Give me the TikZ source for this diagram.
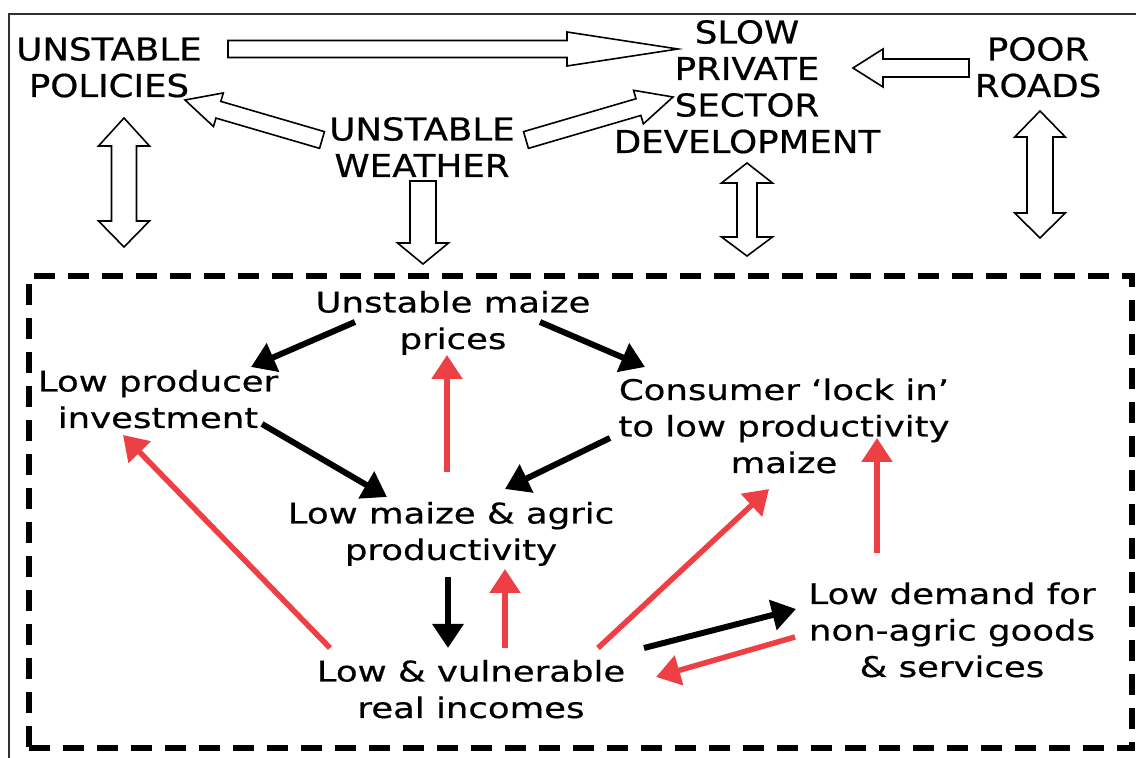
\documentclass[tikz,border=0pt]{standalone}
\usepackage{fontspec}
\usetikzlibrary{arrows.meta,calc,positioning}
\newfontfamily\topfont[FakeStretch=1.13,FakeBold=0.6]{DejaVu Sans}
\newfontfamily\loopfont[FakeStretch=1.25,FakeBold=0.6]{DejaVu Sans}
\definecolor{loopred}{RGB}{238,64,68}
\definecolor{framegray}{RGB}{50,50,50}
% open block arrow: from, to, half shaft, half head, head length
\newcommand\fatarrow[5]{%
  \coordinate (fas) at #1; \coordinate (fae) at #2;
  \coordinate (fab) at ($(fae)!#5!(fas)$);
  \draw[blockarrow] ($(fas)!#3!90:(fae)$) -- ($(fab)!#3!-90:(fas)$) -- ($(fab)!#4!-90:(fas)$)
    -- (fae) -- ($(fab)!#4!90:(fas)$) -- ($(fab)!#3!90:(fas)$) -- ($(fas)!#3!-90:(fae)$) -- cycle;}
% open double block arrow: end a, end b, half shaft, half head, head length a, head length b
\newcommand\fatdarrow[6]{%
  \coordinate (fda) at #1; \coordinate (fdb) at #2;
  \coordinate (fdha) at ($(fda)!#5!(fdb)$); \coordinate (fdhb) at ($(fdb)!#6!(fda)$);
  \draw[blockarrow] (fda) -- ($(fdha)!#4!90:(fdb)$) -- ($(fdha)!#3!90:(fdb)$) -- ($(fdhb)!#3!-90:(fda)$)
    -- ($(fdhb)!#4!-90:(fda)$) -- (fdb) -- ($(fdhb)!#4!90:(fda)$) -- ($(fdhb)!#3!90:(fda)$)
    -- ($(fdha)!#3!-90:(fdb)$) -- ($(fdha)!#4!-90:(fdb)$) -- cycle;}

\begin{document}
\begin{tikzpicture}[x=0.5pt,y=-0.5pt,>={Triangle[length=12pt,width=15pt]},
  cause/.style={font={\topfont\fontsize{15.75pt}{18.25pt}\selectfont},align=center,inner sep=0pt,anchor=base},
  effect/.style={font={\loopfont\fontsize{14.2pt}{18.25pt}\selectfont},align=center,inner sep=0pt,anchor=base},
  blk/.style={->,line width=3pt},
  redarrow/.style={->,line width=2.75pt,loopred},
  blockarrow/.style={draw,fill=white,line width=0.8pt,line join=miter},
  loopbox/.style={draw,line width=3pt,dash pattern=on 10.5pt off 6.5pt},
  frameline/.style={framegray,line width=1.3pt}]
\useasboundingbox (0,0) rectangle (1136,758);
\coordinate (frameTR) at (1150,14); \coordinate (frameTL) at (9,14); \coordinate (frameBL) at (9,770);
\draw[frameline] (frameTR) -- (frameTL) -- (frameBL);

% outside causes (placed at the baseline of their last line)
\node[cause] (pol) at (109,97) {UNSTABLE\\POLICIES};
\node[cause] (slow) at (747,153) {SLOW\\PRIVATE\\SECTOR\\DEVELOPMENT};
\node[cause] (roads) at (1038,97) {POOR\\ROADS};
\node[cause] (weather) at (422,177) {UNSTABLE\\WEATHER};

% the loop
\node[loopbox,minimum width=551.5pt,minimum height=236pt] (loop) at (580.5,512) {};
\node[effect] (prices) at (453,349) {Unstable maize\\prices};
\node[effect] (prod) at (158,428) {Low producer\\investment};
\node[effect] (lockin) at (784,473) {Consumer ‘lock in’\\to low productivity\\maize};
\node[effect] (agric) at (451,560) {Low maize \& agric\\productivity};
\node[effect] (incomes) at (471,718) {Low \& vulnerable\\real incomes};
\node[effect] (demand) at (952,677) {Low demand for\\non-agric goods\\\& services};

% block arrows
\fatarrow{([shift={(119,-48)}]pol.base)}{([shift={(-69,-104)}]slow.base)}{4.25pt}{8.5pt}{55.5pt}
\fatarrow{([shift={(-100,-37)}]weather.base)}{([shift={(76,3)}]pol.base)}{4.35pt}{8.75pt}{17.4pt}
\fatarrow{([shift={(104,-37)}]weather.base)}{([shift={(-74,-56)}]slow.base)}{4.35pt}{8.75pt}{18pt}
\fatarrow{([shift={(-69,-29)}]roads.base)}{([shift={(106,-85)}]slow.base)}{4.5pt}{9.5pt}{15pt}
\fatarrow{([shift={(1,4)}]weather.base)}{([shift={(-157.5,-9)}]loop.north)}{6.5pt}{12.75pt}{10.5pt}
\fatdarrow{([shift={(15,21)}]pol.base)}{([shift={(-456.5,-26)}]loop.north)}{6.25pt}{12.75pt}{14pt}{13pt}
\fatdarrow{([shift={(0,10)}]slow.base)}{([shift={(166.5,-17)}]loop.north)}{5pt}{12.75pt}{10pt}{9.5pt}
\fatdarrow{([shift={(2,14)}]roads.base)}{([shift={(459.5,-35)}]loop.north)}{6.5pt}{12.65pt}{13pt}{12.5pt}

% black links
\path[blk] ([shift={(-98,-27)}]prices.base) edge ([shift={(93,-61)}]prod.base);
\path[blk] ([shift={(87,-27)}]prices.base) edge ([shift={(-139,-106)}]lockin.base);
\path[blk] ([shift={(104,-4)}]prod.base) edge ([shift={(-64,-63)}]agric.base);
\path[blk] ([shift={(-174,-35)}]lockin.base) edge ([shift={(54,-71)}]agric.base);
\path[blk] ([shift={(-3,17)}]agric.base) edge ([shift={(-23,-70)}]incomes.base);
\path[blk] ([shift={(173,-70)}]incomes.base) edge ([shift={(-156,-68)}]demand.base);

% red links
\path[redarrow] ([shift={(-4,-88)}]agric.base) edge ([shift={(-6,6)}]prices.base);
\path[redarrow] ([shift={(-141,-70)}]incomes.base) edge ([shift={(-35,7)}]prod.base);
\path[redarrow] ([shift={(34,-70)}]incomes.base) edge ([shift={(54,9)}]agric.base);
\path[redarrow] ([shift={(127,-70)}]incomes.base) edge ([shift={(-15,16)}]lockin.base);
\path[redarrow] ([shift={(-75,-124)}]demand.base) edge ([shift={(93,-35)}]lockin.base);
\path[redarrow] ([shift={(-157,-40)}]demand.base) edge ([shift={(185,-41)}]incomes.base);
\end{tikzpicture}
\end{document}
